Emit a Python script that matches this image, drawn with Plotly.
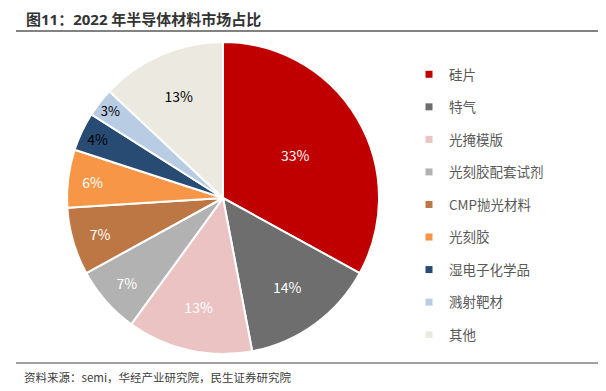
import plotly.graph_objects as go

categories = ["硅片", "特气", "光掩模版", "光刻胶配套试剂", "CMP抛光材料", "光刻胶", "湿电子化学品", "溅射靶材", "其他"]
shares = [33, 14, 13, 7, 7, 6, 4, 3, 13]
colors = ["#C00000", "#6E6E6E", "#EBC3C3", "#B2B2B2", "#BD7744", "#F79646", "#284B74", "#B8CCE4", "#ECEAE0"]
text_colors = ["white", "white", "white", "white", "white", "white", "black", "black", "black"]

W, H = 606, 391
FONT = "Noto Sans CJK SC"
TITLE_FONT = "Open Sans, Noto Sans CJK SC, sans-serif"

fig = go.Figure()
fig.add_trace(go.Pie(
    labels=categories, values=shares, sort=False, direction="clockwise", rotation=0,
    marker=dict(colors=colors, line=dict(color="white", width=2)),
    texttemplate="%{value}%", textposition="inside", insidetextorientation="horizontal",
    textfont=dict(color=text_colors, size=14, family=FONT),
    showlegend=False, hoverinfo="label+value",
    domain=dict(x=[67 / W, 379 / W], y=[(H - 354) / H, (H - 42) / H]),
))
for name, c in zip(categories, colors):
    fig.add_trace(go.Scatter(
        x=[None], y=[None], mode="markers", name=name, legendgroup=name,
        marker=dict(symbol="square", size=7, color=c),
    ))

fig.update_layout(
    width=W, height=H, margin=dict(l=0, r=0, t=0, b=0),
    paper_bgcolor="white", plot_bgcolor="white",
    font=dict(family=FONT, color="#595959"),
    xaxis=dict(visible=False), yaxis=dict(visible=False),
    legend=dict(x=409 / W, y=(H - 59) / H, xanchor="left", yanchor="top",
                font=dict(size=13.5, color="#595959", family=FONT),
                tracegroupgap=12, itemwidth=30, bgcolor="rgba(0,0,0,0)"),
    shapes=[
        dict(type="line", xref="paper", yref="paper", x0=16 / W, x1=598 / W,
             y0=(H - 31) / H, y1=(H - 31) / H, line=dict(color="#595959", width=1.5)),
        dict(type="line", xref="paper", yref="paper", x0=16 / W, x1=598 / W,
             y0=(H - 363) / H, y1=(H - 363) / H, line=dict(color="#808080", width=1.5)),
    ],
    annotations=[
        dict(text="<b>图11：2022 年半导体材料市场占比</b>", xref="paper", yref="paper",
             x=24 / W, y=(H - 19) / H, xanchor="left", yanchor="middle", showarrow=False,
             font=dict(size=15, color="#333333", family=TITLE_FONT)),
        dict(text="资料来源：semi，华经产业研究院，民生证券研究院", xref="paper", yref="paper",
             x=22 / W, y=(H - 377) / H, xanchor="left", yanchor="middle", showarrow=False,
             font=dict(size=11.5, color="#404040", family=FONT)),
    ],
)
fig.write_html("out.html", config={"displayModeBar": False},
               post_script="document.body.style.margin='0';document.body.style.overflow='hidden';")
